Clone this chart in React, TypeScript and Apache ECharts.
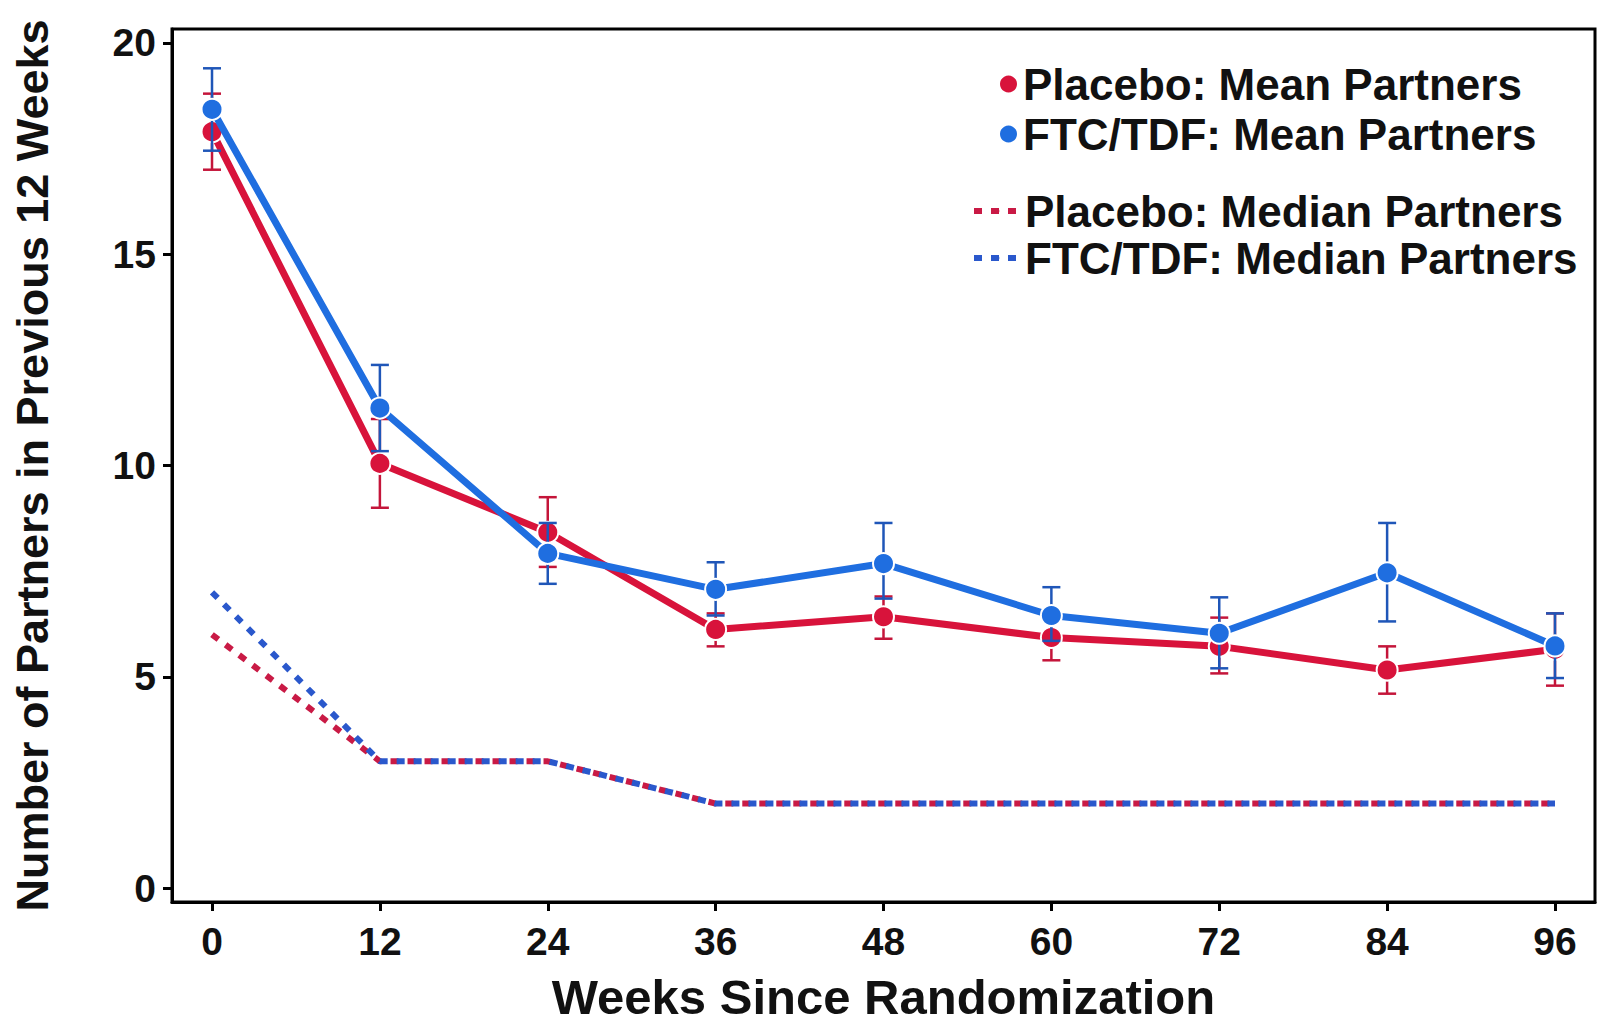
import React, { useEffect, useRef } from "react";
import * as echarts from "echarts";

const weeks = [0, 12, 24, 36, 48, 60, 72, 84, 96];
const xTicks = [0, 12, 24, 36, 48, 60, 72, 84, 96];
const yTicks = [0, 5, 10, 15, 20];

const placeboMean = [17.9, 10.05, 8.42, 6.12, 6.42, 5.93, 5.72, 5.16, 5.65];
const placeboLow = [17.0, 9.0, 7.6, 5.72, 5.9, 5.39, 5.08, 4.6, 4.79];
const placeboHigh = [18.8, 11.1, 9.25, 6.5, 6.9, 6.45, 6.4, 5.72, 6.5];

const ftcMean = [18.43, 11.36, 7.92, 7.07, 7.68, 6.45, 6.03, 7.46, 5.73];
const ftcLow = [17.45, 10.34, 7.2, 6.45, 6.85, 5.85, 5.2, 6.31, 4.97];
const ftcHigh = [19.4, 12.38, 8.64, 7.71, 8.64, 7.12, 6.88, 8.64, 6.5];

const placeboMedian = [6, 3, 3, 2, 2, 2, 2, 2, 2];
const ftcMedian = [7, 3, 3, 2, 2, 2, 2, 2, 2];

const RED = "#d8133b";
const BLUE = "#1f6ee0";
const RED_ERR = "#c4153a";
const BLUE_ERR = "#1f56b8";
const RED_MED = "#c91a45";
const BLUE_MED = "#2a58cc";
const FONT = "'Liberation Sans', Arial, Helvetica, sans-serif";
const MED_DASH = [8, 9];

function errSeries(name: string, low: number[], high: number[], color: string, z: number) {
  return {
    type: "custom",
    name,
    z,
    data: weeks.map((w, i) => [w, low[i], high[i]]),
    encode: { x: 0, y: [1, 2] },
    renderItem: (params: any, api: any) => {
      const x = api.value(0);
      const pLo = api.coord([x, api.value(1)]);
      const pHi = api.coord([x, api.value(2)]);
      const hw = 9;
      const style = { stroke: color, lineWidth: 2.5 };
      return {
        type: "group",
        children: [
          { type: "line", shape: { x1: pLo[0], y1: pLo[1], x2: pHi[0], y2: pHi[1] }, style },
          { type: "line", shape: { x1: pLo[0] - hw, y1: pLo[1], x2: pLo[0] + hw, y2: pLo[1] }, style },
          { type: "line", shape: { x1: pHi[0] - hw, y1: pHi[1], x2: pHi[0] + hw, y2: pHi[1] }, style },
        ],
      };
    },
  };
}

function meanSeries(name: string, vals: number[], color: string, z: number) {
  return {
    type: "line",
    name,
    z,
    data: weeks.map((w, i) => [w, vals[i]]),
    symbol: "circle",
    symbolSize: 21,
    itemStyle: { color, borderColor: "#ffffff", borderWidth: 2 },
    lineStyle: { color, width: 7 },
  };
}

function medianSeries(name: string, vals: number[], color: string, z: number) {
  return {
    type: "line",
    name,
    z,
    data: weeks.map((w, i) => [w, vals[i]]),
    symbol: "none",
    itemStyle: { color },
    lineStyle: { color, width: 6, type: MED_DASH, cap: "butt" },
  };
}

export default function App() {
  const ref = useRef<HTMLDivElement>(null);
  useEffect(() => {
    if (!ref.current) return;
    const chart = echarts.init(ref.current, undefined, { renderer: "svg" });
    const legendText = { fontSize: 44, fontWeight: "bold", color: "#111", fontFamily: FONT, lineHeight: 46 };
    chart.setOption({
      animation: false,
      backgroundColor: "#ffffff",
      grid: {
        left: 172,
        right: 5,
        top: 29,
        bottom: 123,
        show: true,
        borderColor: "#000",
        borderWidth: 3,
        backgroundColor: "transparent",
        outerBoundsMode: "none",
        containLabel: false,
      },
      legend: [
        {
          data: ["Placebo: Mean Partners", "FTC/TDF: Mean Partners"],
          orient: "vertical",
          left: 993,
          top: 56,
          itemWidth: 19,
          itemHeight: 19,
          itemGap: 4,
          icon: "circle",
          textStyle: legendText,
          selectedMode: false,
        },
        {
          data: ["Placebo: Median Partners", "FTC/TDF: Median Partners"],
          orient: "vertical",
          left: 966,
          top: 183,
          itemWidth: 46,
          itemHeight: 6,
          itemGap: 1,
          textStyle: legendText,
          lineStyle: { width: 6, type: MED_DASH },
          selectedMode: false,
        },
      ],
      xAxis: {
        type: "value",
        min: -2.86,
        max: 98.86,
        name: "Weeks Since Randomization",
        nameLocation: "middle",
        nameGap: 70,
        nameTextStyle: { fontSize: 49, fontWeight: "bold", color: "#111", fontFamily: FONT },
        splitLine: { show: false },
        axisLine: { show: true, onZero: false, lineStyle: { color: "#000", width: 3 } },
        axisTick: { show: true, length: 9, lineStyle: { color: "#000", width: 3 }, customValues: xTicks },
        axisLabel: {
          customValues: xTicks,
          margin: 20,
          fontSize: 39,
          fontWeight: "bold",
          color: "#111",
          fontFamily: FONT,
        },
      },
      yAxis: {
        type: "value",
        min: -0.33,
        max: 20.33,
        name: "Number of Partners in Previous 12 Weeks",
        nameLocation: "middle",
        nameGap: 117,
        nameTextStyle: { fontSize: 45, fontWeight: "bold", color: "#111", fontFamily: FONT },
        splitLine: { show: false },
        axisLine: { show: true, onZero: false, lineStyle: { color: "#000", width: 3 } },
        axisTick: { show: true, length: 9, lineStyle: { color: "#000", width: 3 }, customValues: yTicks },
        axisLabel: {
          customValues: yTicks,
          margin: 16,
          fontSize: 39,
          fontWeight: "bold",
          color: "#111",
          fontFamily: FONT,
        },
      },
      series: [
        medianSeries("Placebo: Median Partners", placeboMedian, RED_MED, 2),
        medianSeries("FTC/TDF: Median Partners", ftcMedian, BLUE_MED, 3),
        errSeries("Placebo error", placeboLow, placeboHigh, RED_ERR, 4),
        meanSeries("Placebo: Mean Partners", placeboMean, RED, 5),
        errSeries("FTC/TDF error", ftcLow, ftcHigh, BLUE_ERR, 6),
        meanSeries("FTC/TDF: Mean Partners", ftcMean, BLUE, 7),
      ],
    });
    return () => chart.dispose();
  }, []);
  return <div ref={ref} style={{ width: 1600, height: 1025, position: "absolute", left: 0, top: 0 }} />;
}
